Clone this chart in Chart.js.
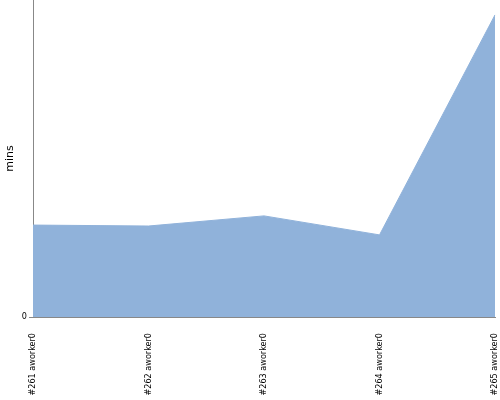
<!DOCTYPE html>
<html>
<head>
<meta charset="utf-8">
<script src="https://cdn.jsdelivr.net/npm/chart.js@4/dist/chart.umd.min.js"></script>
<style>
  html, body { margin: 0; padding: 0; background: #fff; }
  #wrap { width: 500px; height: 400px; }
</style>
</head>
<body>
<div id="wrap"><canvas id="chart"></canvas></div>
<script>
const builds = ["#261 aworker0", "#262 aworker0", "#263 aworker0", "#264 aworker0", "#265 aworker0"];
const mins = [2.9, 2.87, 3.19, 2.59, 9.53];
const yMax = 10;

const ctx = document.getElementById("chart").getContext("2d");

new Chart(ctx, {
  type: "line",
  data: {
    labels: builds,
    datasets: [
      {
        label: "mins",
        data: mins,
        borderColor: "#90b2da",
        backgroundColor: "#90b2da",
        borderWidth: 1,
        pointRadius: 0,
        fill: "origin",
        tension: 0,
      },
    ],
  },
  options: {
    responsive: true,
    maintainAspectRatio: false,
    animation: false,
    layout: { padding: { top: 0, right: 5, left: 0, bottom: 0 } },
    plugins: { legend: { display: false }, tooltip: { enabled: false } },
    scales: {
      x: {
        offset: false,
        grid: { display: false, tickLength: 4 },
        border: { color: "#888" },
        afterFit: (s) => {
          s.height = 83;
          s.paddingLeft = 0;
          s.paddingRight = 0;
        },
        ticks: {
          minRotation: 90,
          maxRotation: 90,
          autoSkip: false,
          padding: 12,
          color: "#000",
          font: { family: "DejaVu Sans Condensed", size: 9 },
        },
      },
      y: {
        min: 0,
        max: yMax,
        grid: {
          display: true,
          drawOnChartArea: false,
          drawTicks: true,
          tickLength: 4,
          color: (c) => (c.tick && c.tick.value === 0 ? "#888" : "rgba(0,0,0,0)"),
        },
        border: { color: "#888" },
        afterFit: (s) => {
          s.width = 33;
          s.paddingTop = 0;
          s.paddingBottom = 0;
        },
        title: {
          display: true,
          text: "mins",
          color: "#000",
          padding: 4,
          font: { family: "DejaVu Sans", size: 11 },
        },
        ticks: {
          color: "#000",
          padding: 2,
          font: { family: "DejaVu Sans Condensed", size: 9 },
          callback: (v) => (v === 0 ? "0" : ""),
        },
      },
    },
  },
});
</script>
</body>
</html>
